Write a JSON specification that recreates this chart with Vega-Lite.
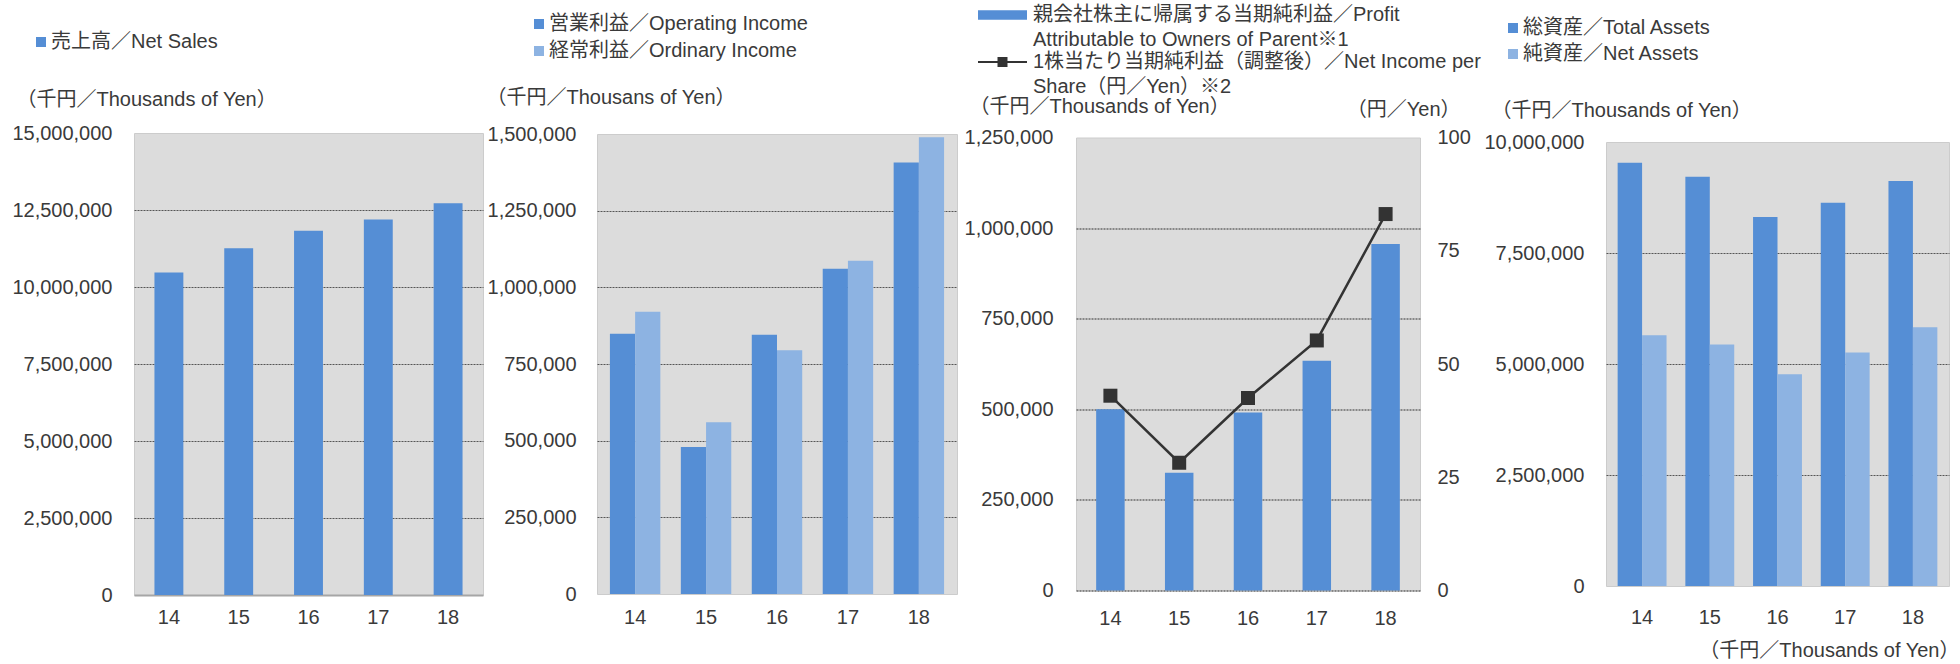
{
  "$schema": "https://vega.github.io/schema/vega-lite/v6.json",
  "autosize": "none",
  "padding": {"left": 134, "top": 133, "right": 1826, "bottom": 531},
  "background": "white",
  "bounds": "flush",
  "center": true,
  "spacing": 0,
  "resolve": {"scale": {"color": "independent", "x": "independent", "y": "independent", "xOffset": "independent"}, "legend": {"color": "independent"}},
  "config": {
    "font": "'Liberation Sans', 'Noto Sans CJK JP', sans-serif",
    "view": {"stroke": null},
    "axis": {"labelFontSize": 20, "labelColor": "#3a3a3a", "titleFontSize": 20, "titleFontWeight": "normal", "titleColor": "#3a3a3a", "ticks": false, "tickSize": 0, "domain": false, "grid": false, "titlePadding": 0},
    "legend": {"labelFontSize": 20, "labelColor": "#3a3a3a", "labelLimit": 2000, "symbolStrokeWidth": 0, "direction": "vertical"}
  },
  "hconcat": [
    {
      "width": 349, "height": 462,
      "view": {"fill": "#dcdcdc", "stroke": "#cccccc"},
      "data": {"values": [
        {"year": "14", "series": "売上高／Net Sales", "value": 10470000},
        {"year": "15", "series": "売上高／Net Sales", "value": 11260000},
        {"year": "16", "series": "売上高／Net Sales", "value": 11830000},
        {"year": "17", "series": "売上高／Net Sales", "value": 12190000},
        {"year": "18", "series": "売上高／Net Sales", "value": 12720000}
      ]},
      "mark": {"type": "bar"},
      "encoding": {
        "x": {"field": "year", "type": "ordinal", "scale": {"paddingInner": 0.586, "paddingOuter": 0.293},
          "axis": {"title": null, "labelAngle": 0, "labelBaseline": "middle", "labelPadding": 22, "domain": true, "domainColor": "#a6a6a6", "domainWidth": 2}},
        "y": {"field": "value", "type": "quantitative", "scale": {"domain": [0, 15000000], "nice": false},
          "axis": {"title": "（千円／Thousands of Yen）", "titleAngle": 0, "titleAlign": "left", "titleBaseline": "middle", "titleX": -118, "titleY": -34,
            "values": [0, 2500000, 5000000, 7500000, 10000000, 12500000, 15000000], "format": ",d", "labelPadding": 22,
            "grid": true, "gridColor": "#555555", "gridDash": [2, 1],
            "gridOpacity": {"condition": {"test": "datum.value === 0 || datum.value === 15000000", "value": 0}, "value": 1}}},
        "color": {"field": "series", "type": "nominal", "scale": {"domain": ["売上高／Net Sales"], "range": ["#558ed5"]},
          "legend": {"title": null, "orient": "none", "legendX": -103, "legendY": -101, "symbolType": "square", "symbolSize": 100, "labelOffset": 0}}
      }
    },
    {"width": 114, "height": 10, "data": {"values": []}, "mark": {"type": "point", "opacity": 0}},
    {
      "width": 360, "height": 460,
      "view": {"fill": "#dcdcdc", "stroke": "#cccccc"},
      "data": {"values": [
        {"year": "14", "series": "営業利益／Operating Income", "value": 849000},
        {"year": "14", "series": "経常利益／Ordinary Income", "value": 920000},
        {"year": "15", "series": "営業利益／Operating Income", "value": 479000},
        {"year": "15", "series": "経常利益／Ordinary Income", "value": 560000},
        {"year": "16", "series": "営業利益／Operating Income", "value": 845000},
        {"year": "16", "series": "経常利益／Ordinary Income", "value": 795000},
        {"year": "17", "series": "営業利益／Operating Income", "value": 1061000},
        {"year": "17", "series": "経常利益／Ordinary Income", "value": 1087000},
        {"year": "18", "series": "営業利益／Operating Income", "value": 1407000},
        {"year": "18", "series": "経常利益／Ordinary Income", "value": 1489000}
      ]},
      "mark": {"type": "bar"},
      "encoding": {
        "x": {"field": "year", "type": "ordinal", "scale": {"paddingInner": 0.289, "paddingOuter": 0.182},
          "axis": {"title": null, "labelAngle": 0, "labelBaseline": "middle", "labelPadding": 23}},
        "xOffset": {"field": "series", "sort": ["営業利益／Operating Income", "経常利益／Ordinary Income"]},
        "y": {"field": "value", "type": "quantitative", "scale": {"domain": [0, 1500000], "nice": false},
          "axis": {"title": "（千円／Thousans of Yen）", "titleAngle": 0, "titleAlign": "left", "titleBaseline": "middle", "titleX": -111, "titleY": -37,
            "values": [0, 250000, 500000, 750000, 1000000, 1250000, 1500000], "format": ",d", "labelPadding": 21,
            "grid": true, "gridColor": "#555555", "gridDash": [2, 1],
            "gridOpacity": {"condition": {"test": "datum.value === 0 || datum.value === 1500000", "value": 0}, "value": 1}}},
        "color": {"field": "series", "type": "nominal",
          "scale": {"domain": ["営業利益／Operating Income", "経常利益／Ordinary Income"], "range": ["#558ed5", "#8db3e2"]},
          "legend": {"title": null, "orient": "none", "legendX": -68, "legendY": -120, "symbolType": "square", "symbolSize": 100, "labelOffset": 0, "rowPadding": 7}}
      }
    },
    {"width": 119, "height": 10, "data": {"values": []}, "mark": {"type": "point", "opacity": 0}},
    {
      "width": 344, "height": 453,
      "view": {"fill": "#dcdcdc", "stroke": "#cccccc"},
      "data": {"values": [
        {"year": "14", "profit": 500000, "eps": 43.0, "s1": "親会社株主に帰属する当期純利益／Profit|Attributable to Owners of Parent※1", "s2": "1株当たり当期純利益（調整後）／Net Income per|Share（円／Yen）※2"},
        {"year": "15", "profit": 325000, "eps": 28.2, "s1": "親会社株主に帰属する当期純利益／Profit|Attributable to Owners of Parent※1", "s2": "1株当たり当期純利益（調整後）／Net Income per|Share（円／Yen）※2"},
        {"year": "16", "profit": 491000, "eps": 42.5, "s1": "親会社株主に帰属する当期純利益／Profit|Attributable to Owners of Parent※1", "s2": "1株当たり当期純利益（調整後）／Net Income per|Share（円／Yen）※2"},
        {"year": "17", "profit": 634000, "eps": 55.2, "s1": "親会社株主に帰属する当期純利益／Profit|Attributable to Owners of Parent※1", "s2": "1株当たり当期純利益（調整後）／Net Income per|Share（円／Yen）※2"},
        {"year": "18", "profit": 956000, "eps": 83.1, "s1": "親会社株主に帰属する当期純利益／Profit|Attributable to Owners of Parent※1", "s2": "1株当たり当期純利益（調整後）／Net Income per|Share（円／Yen）※2"}
      ]},
      "encoding": {
        "x": {"field": "year", "type": "ordinal", "scale": {"paddingInner": 0.586, "paddingOuter": 0.293},
          "axis": {"title": null, "labelAngle": 0, "labelBaseline": "middle", "labelPadding": 28}}
      },
      "layer": [
        {
          "mark": {"type": "bar"},
          "encoding": {
            "y": {"field": "profit", "type": "quantitative", "scale": {"domain": [0, 1250000], "nice": false},
              "axis": {"title": "（千円／Thousands of Yen）", "titleAngle": 0, "titleAlign": "left", "titleBaseline": "middle", "titleX": -107, "titleY": -31.5,
                "values": [0, 250000, 500000, 750000, 1000000, 1250000], "format": ",d", "labelPadding": 23,
                "grid": true, "gridColor": "#333333", "gridDash": [2, 1],
                "gridOpacity": {"condition": {"test": "datum.value === 1250000", "value": 0}, "value": 1}}},
            "color": {"field": "s1", "type": "nominal", "scale": {"range": ["#558ed5"]},
              "legend": {"title": null, "orient": "none", "legendX": -98, "legendY": -147,
                "symbolType": "M-1,-0.19H1V0.19H-1Z", "symbolSize": 2401, "labelOffset": 6, "labelBaseline": "top",
                "labelExpr": "split(datum.label, '|')",
                "encode": {"labels": {"update": {"dy": {"value": -10}, "lineHeight": {"value": 25}}}}}}
          }
        },
        {
          "mark": {"type": "line", "strokeWidth": 2.5, "point": {"filled": true, "shape": "square", "size": 196}},
          "encoding": {
            "y": {"field": "eps", "type": "quantitative", "scale": {"domain": [0, 100], "nice": false},
              "axis": {"orient": "right", "title": "（円／Yen）", "titleAngle": 0, "titleAlign": "right", "titleBaseline": "middle", "titleX": 40, "titleY": -28.5,
                "values": [0, 25, 50, 75, 100], "format": "d", "labelPadding": 17, "grid": false}},
            "color": {"field": "s2", "type": "nominal", "scale": {"range": ["#333333"]},
              "legend": {"title": null, "orient": "none", "legendX": -99, "legendY": -101,
                "symbolType": "M-1,0H1M-0.163,-0.163H0.163V0.163H-0.163Z", "symbolSize": 2401, "symbolStrokeWidth": 2, "labelOffset": 5, "labelBaseline": "top",
                "labelExpr": "split(datum.label, '|')",
                "encode": {
                  "symbols": {"update": {"fill": {"value": "#333333"}, "stroke": {"value": "#333333"}, "strokeWidth": {"value": 2}}},
                  "labels": {"update": {"dy": {"value": -10}, "lineHeight": {"value": 25}}}}}}
          }
        }
      ],
      "resolve": {"scale": {"y": "independent", "color": "independent"}, "legend": {"color": "independent"}}
    },
    {"width": 186, "height": 10, "data": {"values": []}, "mark": {"type": "point", "opacity": 0}},
    {
      "width": 343, "height": 444,
      "view": {"fill": "#dcdcdc", "stroke": "#cccccc"},
      "data": {"values": [
        {"year": "14", "series": "総資産／Total Assets", "value": 9530000},
        {"year": "14", "series": "純資産／Net Assets", "value": 5650000},
        {"year": "15", "series": "総資産／Total Assets", "value": 9220000},
        {"year": "15", "series": "純資産／Net Assets", "value": 5440000},
        {"year": "16", "series": "総資産／Total Assets", "value": 8310000},
        {"year": "16", "series": "純資産／Net Assets", "value": 4770000},
        {"year": "17", "series": "総資産／Total Assets", "value": 8630000},
        {"year": "17", "series": "純資産／Net Assets", "value": 5260000},
        {"year": "18", "series": "総資産／Total Assets", "value": 9120000},
        {"year": "18", "series": "純資産／Net Assets", "value": 5830000}
      ]},
      "mark": {"type": "bar"},
      "encoding": {
        "x": {"field": "year", "type": "ordinal", "scale": {"paddingInner": 0.278, "paddingOuter": 0.172},
          "axis": {"title": "（千円／Thousands of Yen）", "titleAlign": "right", "titleBaseline": "middle", "titleX": 353, "titleY": 64,
            "labelAngle": 0, "labelBaseline": "middle", "labelPadding": 31}},
        "xOffset": {"field": "series", "sort": ["総資産／Total Assets", "純資産／Net Assets"]},
        "y": {"field": "value", "type": "quantitative", "scale": {"domain": [0, 10000000], "nice": false},
          "axis": {"title": "（千円／Thousands of Yen）", "titleAngle": 0, "titleAlign": "left", "titleBaseline": "middle", "titleX": -115, "titleY": -32,
            "values": [0, 2500000, 5000000, 7500000, 10000000], "format": ",d", "labelPadding": 22,
            "grid": true, "gridColor": "#555555", "gridDash": [2, 1],
            "gridOpacity": {"condition": {"test": "datum.value === 0 || datum.value === 10000000", "value": 0}, "value": 1}}},
        "color": {"field": "series", "type": "nominal",
          "scale": {"domain": ["総資産／Total Assets", "純資産／Net Assets"], "range": ["#558ed5", "#8db3e2"]},
          "legend": {"title": null, "orient": "none", "legendX": -103, "legendY": -124, "symbolType": "square", "symbolSize": 100, "labelOffset": 0, "rowPadding": 6}}
      }
    }
  ]
}
